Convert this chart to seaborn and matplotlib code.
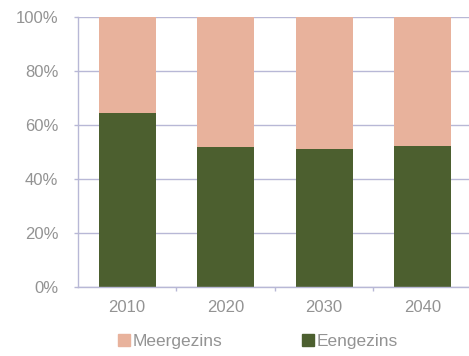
import matplotlib
matplotlib.use("Agg")
import matplotlib.pyplot as plt
import pandas as pd
import seaborn as sns
from matplotlib.patches import Patch
from matplotlib.ticker import FixedLocator, PercentFormatter

years = ["2010", "2020", "2030", "2040"]
eengezins = [64.3, 51.9, 50.9, 52.3]
meergezins = [100 - v for v in eengezins]
y_ticks = [0, 20, 40, 60, 80, 100]

PINK = "#e8b29c"
GREEN = "#4c5f2f"
GRID = "#b8b8d6"
TEXT = "#939393"


def main() -> None:
    df = pd.DataFrame({"year": years, "eengezins": eengezins, "meergezins": meergezins})
    df["total"] = df["eengezins"] + df["meergezins"]

    sns.set_style("white")
    plt.rcParams["font.family"] = ["Liberation Sans", "DejaVu Sans"]

    fig = plt.figure(figsize=(4.69, 3.56), dpi=100)
    ax = fig.add_axes([0.166, 0.195, 0.838, 0.757])

    # stacked: full bar in pink, green part drawn over it
    sns.barplot(data=df, x="year", y="total", color=PINK, saturation=1, width=0.58, linewidth=0, ax=ax)
    sns.barplot(data=df, x="year", y="eengezins", color=GREEN, saturation=1, width=0.58, linewidth=0, ax=ax)

    ax.set_xlim(-0.5, 3.49)
    ax.set_ylim(0, 100)
    ax.set_yticks(y_ticks)
    ax.yaxis.set_major_formatter(PercentFormatter(decimals=0))
    ax.yaxis.grid(True, color=GRID, linewidth=1)
    ax.set_axisbelow(True)
    ax.set_xlabel("")
    ax.set_ylabel("")

    for side in ["top", "right"]:
        ax.spines[side].set_visible(False)
    for side in ["left", "bottom"]:
        ax.spines[side].set_color(GRID)
        ax.spines[side].set_linewidth(1)

    ax.tick_params(axis="y", colors=GRID, labelcolor=TEXT, labelsize=12, length=3, width=1, pad=11, left=True)
    ax.tick_params(axis="x", which="major", length=0, labelcolor=TEXT, labelsize=12, pad=10)
    ax.xaxis.set_minor_locator(FixedLocator([0.5, 1.5, 2.5]))
    ax.tick_params(axis="x", which="minor", bottom=True, length=3, width=1, color=GRID, direction="out")

    handles = [Patch(color=PINK, label="Meergezins"), Patch(color=GREEN, label="Eengezins")]
    fig.legend(handles=handles, loc="center", bbox_to_anchor=(258 / 469, 0.04), ncol=2, frameon=False,
               fontsize=12.5, labelcolor=TEXT, handlelength=0.7, handleheight=0.7, handletextpad=0.15,
               columnspacing=4.6)

    fig.savefig("out.png", dpi=100)
    plt.close(fig)


if __name__ == "__main__":
    main()
